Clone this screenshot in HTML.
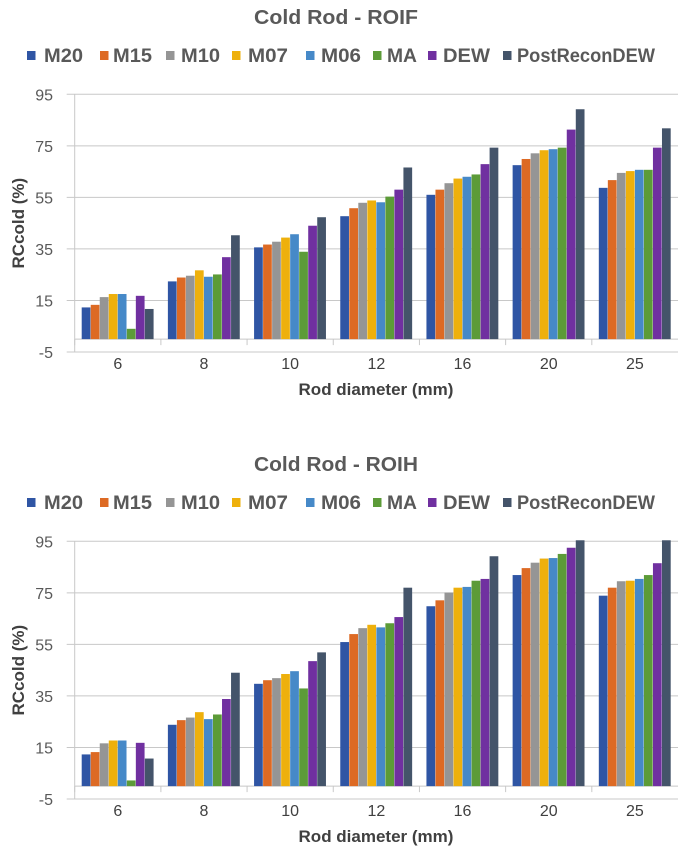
<!DOCTYPE html>
<html><head><meta charset="utf-8"><style>
body{margin:0;background:#fff;}
svg{display:block;font-family:"Liberation Sans",sans-serif;}
</style></head><body>
<svg id="svg" width="685" height="855"></svg>
<script>
const categories=["6","8","10","12","16","20","25"];
const seriesNames=["M20","M15","M10","M07","M06","MA","DEW","PostReconDEW"];
const colors=["#2f55a4","#dd6a24","#959595","#eeb00c","#4689c8","#5c9b38","#7030a0","#44546a"];
const yTicks=[-5,15,35,55,75,95];
const roifM20=[12.3,22.4,35.6,47.7,56,67.5,58.7];
const roifM15=[13.3,23.9,36.7,50.8,58,69.9,61.7];
const roifM10=[16.3,24.6,37.8,52.9,60.5,72.1,64.5];
const roifM07=[17.5,26.7,39.4,53.8,62.3,73.3,65.2];
const roifM06=[17.5,24.2,40.7,53.1,63,73.7,65.7];
const roifMA=[4,25.1,33.9,55.3,63.9,74.3,65.7];
const roifDEW=[16.8,31.8,44,58,67.9,81.3,74.3];
const roifPost=[11.7,40.3,47.3,66.6,74.3,89.2,81.8];
const roihM20=[12.3,23.8,39.7,55.9,69.8,81.9,73.9];
const roihM15=[13.2,25.6,41.1,59,72.1,84.6,77];
const roihM10=[16.6,26.6,41.9,61.3,75.1,86.7,79.5];
const roihM07=[17.7,28.7,43.5,62.6,77,88.3,79.7];
const roihM06=[17.7,26,44.6,61.6,77.3,88.5,80.4];
const roihMA=[2.2,27.8,37.9,63.2,79.7,90.1,81.9];
const roihDEW=[16.8,33.8,48.5,65.6,80.4,92.5,86.5];
const roihPost=[10.7,44,51.9,77,89.2,95.4,95.4];
const roif=[roifM20,roifM15,roifM10,roifM07,roifM06,roifMA,roifDEW,roifPost];
const roih=[roihM20,roihM15,roihM10,roihM07,roihM06,roihMA,roihDEW,roihPost];
const legendSq=[27,100,166,232,306,373,428,503];
const legendTx=[44,113,181,248,321,387,443,517];
const legendW=[39,39,39,40,40,30,47,138];
const NS="http://www.w3.org/2000/svg";
const svg=document.getElementById('svg');
function mk(tag,attrs,parent,text){const e=document.createElementNS(NS,tag);for(const k in attrs)e.setAttribute(k,attrs[k]);if(text!==undefined)e.textContent=text;(parent||svg).appendChild(e);return e;}
function chart(oy,title,data,key){
  const g=mk('g',{});
  
  
  const left=74.7,right=678,top=oy+94.3,bot=oy+352;
  const y=v=>bot-(v+5)*(bot-top)/100;
  const cw=(right-left)/categories.length;
  const t=mk('text',{x:336,y:oy+24,'text-anchor':'middle','font-size':20,'font-weight':'bold',fill:'#595959',textLength:164,lengthAdjust:'spacingAndGlyphs'},g,title);
  
  
  seriesNames.forEach((n,i)=>{
    const lg=mk('g',{},g);
    
    
    mk('rect',{x:legendSq[i],y:oy+51,width:8.5,height:9,fill:colors[i]},lg);
    mk('text',{x:legendTx[i],y:oy+62,'font-size':19,'font-weight':'bold',fill:'#595959',textLength:legendW[i],lengthAdjust:'spacingAndGlyphs'},lg,n);
  });
  yTicks.forEach(v=>{
    const l=mk('line',{x1:left-8,x2:right,y1:y(v),y2:y(v),stroke:'#c8c8c8','stroke-width':1},g);
    
    
    const tx=mk('text',{x:53,y:y(v)+6,'text-anchor':'end','font-size':16,fill:'#595959'},g,v);
    
    
  });
  mk('line',{x1:left,x2:left,y1:top,y2:bot,stroke:'#c8c8c8'},g);
  mk('line',{x1:left,x2:right,y1:y(0),y2:y(0),stroke:'#c8c8c8'},g);
  categories.forEach((c,ci)=>{
    mk('line',{x1:left+cw*ci,x2:left+cw*ci,y1:y(0),y2:y(0)+6,stroke:'#c8c8c8'},g);
    const xl=mk('text',{x:left+cw*(ci+0.5),y:bot+17,'text-anchor':'middle','font-size':16,fill:'#404040'},g,c);
    
    
    const bw=(cw-14)/seriesNames.length;
    data.forEach((s,si)=>{
      const v=s[ci];const x=left+cw*ci+7+si*bw;
      const r=mk('rect',{x:x,y:Math.min(y(v),y(0)),width:bw-0.3,height:Math.abs(y(0)-y(v)),fill:colors[si]},g);
      
      
    });
  });
  const xt=mk('text',{x:376,y:bot+43,'text-anchor':'middle','font-size':17,'font-weight':'bold',fill:'#404040'},g,'Rod diameter (mm)');
  
  
  const yt=mk('text',{x:0,y:0,'text-anchor':'middle','font-size':17,'font-weight':'bold',fill:'#404040',transform:`translate(24,${(top+bot)/2}) rotate(-90)`},g,'RCcold (%)');
  
  
}
chart(0,'Cold Rod - ROIF',roif,'roif');
chart(447,'Cold Rod - ROIH',roih,'roih');
</script>
</body></html>
